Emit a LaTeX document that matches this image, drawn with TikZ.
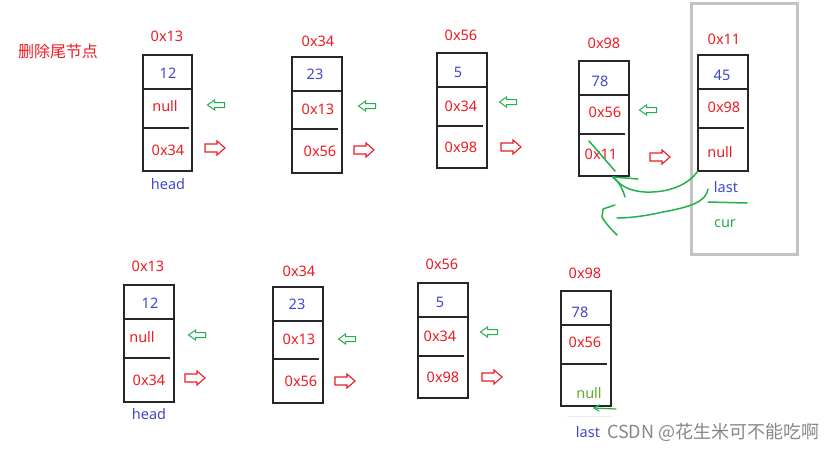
\documentclass[tikz,border=0pt]{standalone}
\usepackage{fontspec}
\setmainfont{Noto Sans}
\newfontfamily\cjk{Noto Sans CJK SC}
\usetikzlibrary{fit}
\definecolor{pred}{HTML}{ED1C24}
\definecolor{pblue}{HTML}{3F48CC}
\definecolor{pgreen}{HTML}{22B14C}
\definecolor{pgray}{HTML}{C3C3C3}
\definecolor{ynull}{HTML}{62AE2C}
\newcommand\garrowat[1]{\draw[draw=pgreen, line width=1pt, line join=miter, shift={(#1)}]
  (-8.5,0) -- (-1.5,-5) -- (-1.5,-2.5) -- (8.5,-2.5) -- (8.5,2.5) -- (-1.5,2.5) -- (-1.5,5) -- cycle;}
\newcommand\rarrowat[1]{\draw[draw=pred, line width=1.1pt, line join=miter, shift={(#1)}]
  (10,0) -- (2,-7) -- (2,-4) -- (-10,-4) -- (-10,4) -- (2,4) -- (2,7) -- cycle;}
\begin{document}
\begin{tikzpicture}[x=1pt,y=-1pt,
  box/.style={draw=black!85, line width=1.3pt, inner sep=0pt},
  divline/.style={draw=black!85, line width=1.2pt},
  txt/.style={inner sep=0pt, font=\fontsize{14.5}{17}\selectfont},
  addr/.style={txt, text=pred},
  val/.style={txt, text=pblue},
  ptr/.style={txt, text=pred},
  lbl/.style={txt, text=pblue, font=\fontsize{14.5}{17}\selectfont},
  hand/.style={draw=pgreen, line width=1.5pt, line cap=round, line join=round}]
\useasboundingbox[fill=white] (0,0) rectangle (836,451);

% title
\node[inner sep=0pt, text=pred, font=\cjk\fontsize{16}{18}\selectfont] (title) at (58,51) {删除尾节点};

% ===== top row =====
% node 1
\node[box, fit={(143,55) (192,171)}] (b1) {};
\draw[divline] (143,89) -- (192,89);
\draw[divline] (143,128) -- (189,128);
\node[addr] (b1a) at (167,36) {0x13};
\node[val] (b1v) at (168,73) {12};
\node[ptr] (b1p) at (165,106) {null};
\node[ptr] (b1n) at (168,150) {0x34};
\node[lbl] (head1) at (168,184) {head};
\coordinate (g1) at (216,105); \garrowat{g1}
\coordinate (r1) at (215,148); \rarrowat{r1}

% node 2
\node[box, fit={(292,57) (342,173)}] (b2) {};
\draw[divline] (292,91) -- (342,91);
\draw[divline] (292,129) -- (338,129);
\node[addr] (b2a) at (318,41) {0x34};
\node[val] (b2v) at (315,74) {23};
\node[ptr] (b2p) at (318,109) {0x13};
\node[ptr] (b2n) at (320,151) {0x56};
\coordinate (g2) at (367,106); \garrowat{g2}
\coordinate (r2) at (364,150); \rarrowat{r2}

% node 3
\node[box, fit={(437,53) (487,168)}] (b3) {};
\draw[divline] (437,87) -- (487,87);
\draw[divline] (437,126) -- (483,126);
\node[addr] (b3a) at (461,35) {0x56};
\node[val] (b3v) at (458,72) {5};
\node[ptr] (b3p) at (461,106) {0x34};
\node[ptr] (b3n) at (461,147) {0x98};
\coordinate (g3) at (508,102); \garrowat{g3}
\coordinate (r3) at (511,147); \rarrowat{r3}

% node 4
\node[box, fit={(579,61) (629,176)}] (b4) {};
\draw[divline] (579,95) -- (629,95);
\draw[divline] (579,134) -- (625,134);
\node[addr] (b4a) at (604,43) {0x98};
\node[val] (b4v) at (600,81) {78};
\node[ptr] (b4p) at (605,112) {0x56};
\node[ptr] (b4n) at (601,154) {0x11};
\coordinate (g4) at (648,110); \garrowat{g4}
\coordinate (r4) at (660,157); \rarrowat{r4}

% node 5 (removed)
\node[draw=pgray, line width=3pt, inner sep=0pt, fit={(691,3) (797,254)}] (frame) {};
\node[box, fit={(698,55) (748,171)}] (b5) {};
\draw[divline] (698,89) -- (748,89);
\draw[divline] (698,128) -- (744,128);
\node[addr] (b5a) at (724,39) {0x11};
\node[val] (b5v) at (722,75) {45};
\node[ptr] (b5p) at (724,107) {0x98};
\node[ptr] (b5n) at (720,152) {null};
\node[lbl] (last1) at (726,187) {last};
\node[txt, text=pgreen] (cur1) at (725,224) {cur};
\draw[hand] (708,202) -- (747,203);

% hand-drawn green strokes
\draw[hand] (589,141) -- (615,171);
\coordinate (tipA) at (613,177);
\draw[hand] (b5.south west) .. controls (688,185) and (668,193) .. (645,192)
  .. controls (628,191) and (620,185) .. (tipA);
\draw[hand] (tipA) -- (638,179);
\draw[hand] (tipA) .. controls (620,183) and (623,190) .. (625,197);
\draw[hand] (708,189) .. controls (706,202) and (690,207) .. (663,212)
  .. controls (645,216) and (630,218) .. (617,218);
\draw[hand] (615,205) -- (603,209) -- (602,217) .. controls (606,224) and (611,229) .. (617,235);

% ===== bottom row =====
% node 1
\node[box, fit={(124,285) (174,402)}] (c1) {};
\draw[divline] (124,319) -- (174,319);
\draw[divline] (124,358) -- (170,358);
\node[addr] (c1a) at (148,266) {0x13};
\node[val] (c1v) at (150,303) {12};
\node[ptr] (c1p) at (142,337) {null};
\node[ptr] (c1n) at (149,380) {0x34};
\node[lbl] (head2) at (149,414) {head};
\coordinate (h1) at (197,335); \garrowat{h1}
\coordinate (s1) at (195,378); \rarrowat{s1}

% node 2
\node[box, fit={(273,287) (323,403)}] (c2) {};
\draw[divline] (273,321) -- (323,321);
\draw[divline] (273,359) -- (319,359);
\node[addr] (c2a) at (299,271) {0x34};
\node[val] (c2v) at (297,304) {23};
\node[ptr] (c2p) at (299,339) {0x13};
\node[ptr] (c2n) at (301,381) {0x56};
\coordinate (h2) at (347,339); \garrowat{h2}
\coordinate (s2) at (345,381); \rarrowat{s2}

% node 3
\node[box, fit={(418,283) (468,398)}] (c3) {};
\draw[divline] (418,317) -- (468,317);
\draw[divline] (418,356) -- (464,356);
\node[addr] (c3a) at (442,264) {0x56};
\node[val] (c3v) at (440,302) {5};
\node[ptr] (c3p) at (440,336) {0x34};
\node[ptr] (c3n) at (443,377) {0x98};
\coordinate (h3) at (489,332); \garrowat{h3}
\coordinate (s3) at (492,377); \rarrowat{s3}

% node 4
\node[box, fit={(561,291) (611,406)}] (c4) {};
\draw[divline] (561,325) -- (611,325);
\draw[divline] (561,364) -- (607,364);
\node[addr] (c4a) at (585,273) {0x98};
\node[val] (c4v) at (580,312) {78};
\node[ptr] (c4p) at (585,342) {0x56};
\node[txt, text=ynull] (c4n) at (589,393) {null};
\coordinate (tipC) at (594,408);
\draw[hand, line width=1.2pt] (616,409) -- (tipC);
\draw[hand, line width=1.2pt] (599,405) -- (tipC) -- (599,411);
\draw[black!8, line width=0.8pt] (567,416) -- (612,416);
\node[lbl] (last2) at (588,432) {last};

% watermark
\node[inner sep=0pt, text=black!55, opacity=0.85, font=\cjk\fontsize{18}{20}\selectfont, anchor=west] (wm) at (607,432) {CSDN @花生米可不能吃啊};
\end{tikzpicture}
\end{document}
